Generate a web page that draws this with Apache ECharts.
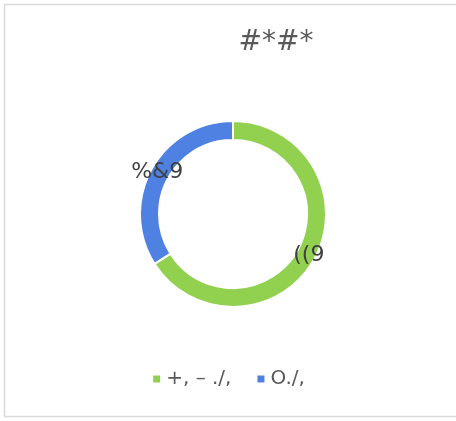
<!DOCTYPE html>
<html><head><meta charset="utf-8">
<script src="https://cdn.jsdelivr.net/npm/echarts@6/dist/echarts.min.js"></script>
<style>html,body{margin:0;padding:0;background:#fff}#c{width:456px;height:421px}</style>
</head><body><div id="c"></div>
<script>
var titleText = '#*#*';
var categories = ['+, – ./,', 'O./,'];
var values = [66, 34];
var labelTexts = ['((9', '%&9'];
var colors = ['#92d050', '#4e81e2'];

var chart = echarts.init(document.getElementById('c'));
chart.setOption({
  animation: false,
  graphic: [{type:'rect', shape:{x:4.5,y:4.5,width:460,height:412}, style:{fill:'none', stroke:'#d9d9d9', lineWidth:1.5}, silent:true}],
  title: {text: titleText, left: 271, top: 24, textAlign: 'center',
    textStyle: {fontFamily: 'DejaVu Sans', fontWeight: 'normal', fontSize: 28, color: '#595959'}},
  legend: {data: categories, bottom: 27, left: 'center', itemWidth: 9, itemHeight: 9, itemGap: 24, icon: 'rect',
    textStyle: {fontFamily: 'DejaVu Sans', fontSize: 20, color: '#595959'}},
  series: [{
    type: 'pie', center: [233, 214], radius: [74, 93], startAngle: 90, clockwise: true,
    itemStyle: {borderColor: '#fff', borderWidth: 2},
    label: {show: true, position: 'inside', fontFamily: 'DejaVu Sans', fontSize: 22, color: '#404040',
      formatter: function(p){ return labelTexts[p.dataIndex]; }},
    labelLine: {show: false},
    data: categories.map(function(c, i){ return {name: c, value: values[i], itemStyle: {color: colors[i]}}; })
  }]
});
</script></body></html>
